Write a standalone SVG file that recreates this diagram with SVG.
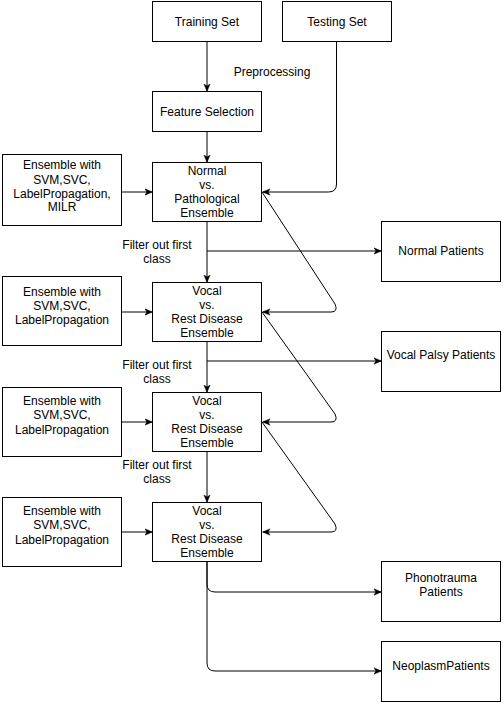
<svg xmlns="http://www.w3.org/2000/svg" width="503" height="703" viewBox="0 0 503 703">
<style>
.box{fill:#fff;stroke:#000;stroke-width:1}
.lbl{font-family:"Liberation Sans",Arial,sans-serif;font-size:12px;fill:#000;text-anchor:middle}
.edge{fill:none;stroke:#000;stroke-width:1}
</style>
<defs>
<marker id="arr" viewBox="0 0 10 10" refX="10" refY="5" markerWidth="8" markerHeight="8" markerUnits="userSpaceOnUse" orient="auto">
<path d="M0.5,1 L10,5 L0.5,9 L3,5 Z" fill="#000" stroke="#000" stroke-width="0.5"/>
</marker>
</defs>
<rect width="503" height="703" fill="#fff"/>
<g id="connectors">
<path class="edge" d="M207,41.5 V91.5" marker-end="url(#arr)"/>
<path class="edge" d="M207,131.5 V162.5" marker-end="url(#arr)"/>
<path class="edge" d="M336.5,41.5 V184 Q336.5,192 328.5,192 H262.5" marker-end="url(#arr)"/>
<path class="edge" d="M121.5,192 H152.5" marker-end="url(#arr)"/>
<path class="edge" d="M207,221.5 V282.5" marker-end="url(#arr)"/>
<path class="edge" d="M207,251 H381.5" marker-end="url(#arr)"/>
<path class="edge" d="M262,192 L335,304 Q338.5,312 331,312 H262.5" marker-end="url(#arr)"/>
<path class="edge" d="M121.5,312 H152.5" marker-end="url(#arr)"/>
<path class="edge" d="M207,341.5 V392.5" marker-end="url(#arr)"/>
<path class="edge" d="M207,361 H381.5" marker-end="url(#arr)"/>
<path class="edge" d="M262,312 L335,414 Q338.5,422 331,422 H262.5" marker-end="url(#arr)"/>
<path class="edge" d="M121.5,422 H152.5" marker-end="url(#arr)"/>
<path class="edge" d="M207,451.5 V502.5" marker-end="url(#arr)"/>
<path class="edge" d="M262,422 L335,524 Q338.5,532 331,532 H262.5" marker-end="url(#arr)"/>
<path class="edge" d="M121.5,532 H152.5" marker-end="url(#arr)"/>
<path class="edge" d="M207,561.5 V584 Q207,592 215,592 H381.5" marker-end="url(#arr)"/>
<path class="edge" d="M207,561.5 V663 Q207,671 215,671 H381.5" marker-end="url(#arr)"/>
<text class="lbl" x="272" y="76.3">Preprocessing</text>
<text class="lbl" x="157" y="249.3">Filter out first</text>
<text class="lbl" x="157" y="263">class</text>
<text class="lbl" x="157" y="369.3">Filter out first</text>
<text class="lbl" x="157" y="383">class</text>
<text class="lbl" x="157" y="469.3">Filter out first</text>
<text class="lbl" x="157" y="483.3">class</text>
</g>
<g id="training">
<rect class="box" x="152.5" y="1.5" width="109" height="40"/>
<text class="lbl" x="207" y="25.8">Training Set</text>
</g>
<g id="testing">
<rect class="box" x="282.5" y="1.5" width="109" height="40"/>
<text class="lbl" x="337" y="25.8">Testing Set</text>
</g>
<g id="feature">
<rect class="box" x="152.5" y="91.5" width="109" height="40"/>
<text class="lbl" x="207" y="115.8">Feature Selection</text>
</g>
<g id="normal">
<rect class="box" x="152.5" y="162.5" width="109" height="59"/>
<text class="lbl" x="207" y="175">Normal</text>
<text class="lbl" x="207" y="189">vs.</text>
<text class="lbl" x="207" y="203.3">Pathological</text>
<text class="lbl" x="207" y="217.3">Ensemble</text>
</g>
<g id="ens1">
<rect class="box" x="2.5" y="154.5" width="119" height="71"/>
<text class="lbl" x="62" y="169.3">Ensemble with</text>
<text class="lbl" x="62" y="183.6">SVM,SVC,</text>
<text class="lbl" x="62" y="197.6">LabelPropagation,</text>
<text class="lbl" x="62" y="211">MILR</text>
</g>
<g id="normalPatients">
<rect class="box" x="381.5" y="221.5" width="119" height="60"/>
<text class="lbl" x="441" y="255.3">Normal Patients</text>
</g>
<g id="vocal1">
<rect class="box" x="152.5" y="282.5" width="109" height="59"/>
<text class="lbl" x="207" y="295">Vocal</text>
<text class="lbl" x="207" y="309.2">vs.</text>
<text class="lbl" x="207" y="323.3">Rest Disease</text>
<text class="lbl" x="207" y="337.3">Ensemble</text>
</g>
<g id="ens2">
<rect class="box" x="2.5" y="276.5" width="119" height="69"/>
<text class="lbl" x="62" y="296">Ensemble with</text>
<text class="lbl" x="62" y="310">SVM,SVC,</text>
<text class="lbl" x="62" y="324">LabelPropagation</text>
</g>
<g id="vocalPalsy">
<rect class="box" x="381.5" y="331.5" width="119" height="60"/>
<text class="lbl" x="441" y="359.3">Vocal Palsy Patients</text>
</g>
<g id="vocal2">
<rect class="box" x="152.5" y="392.5" width="109" height="59"/>
<text class="lbl" x="207" y="405">Vocal</text>
<text class="lbl" x="207" y="419.2">vs.</text>
<text class="lbl" x="207" y="433.3">Rest Disease</text>
<text class="lbl" x="207" y="447.3">Ensemble</text>
</g>
<g id="ens3">
<rect class="box" x="2.5" y="387.5" width="119" height="69"/>
<text class="lbl" x="62" y="405">Ensemble with</text>
<text class="lbl" x="62" y="419">SVM,SVC,</text>
<text class="lbl" x="62" y="433.6">LabelPropagation</text>
</g>
<g id="vocal3">
<rect class="box" x="152.5" y="502.5" width="109" height="59"/>
<text class="lbl" x="207" y="515">Vocal</text>
<text class="lbl" x="207" y="529.2">vs.</text>
<text class="lbl" x="207" y="543.3">Rest Disease</text>
<text class="lbl" x="207" y="557.3">Ensemble</text>
</g>
<g id="ens4">
<rect class="box" x="2.5" y="497.5" width="119" height="69"/>
<text class="lbl" x="62" y="515">Ensemble with</text>
<text class="lbl" x="62" y="529">SVM,SVC,</text>
<text class="lbl" x="62" y="543.6">LabelPropagation</text>
</g>
<g id="phonotrauma">
<rect class="box" x="381.5" y="561.5" width="119" height="60"/>
<text class="lbl" x="441" y="582.3">Phonotrauma</text>
<text class="lbl" x="441" y="596.3">Patients</text>
</g>
<g id="neoplasm">
<rect class="box" x="381.5" y="641.5" width="119" height="60"/>
<text class="lbl" x="441" y="670.3">NeoplasmPatients</text>
</g>
</svg>
